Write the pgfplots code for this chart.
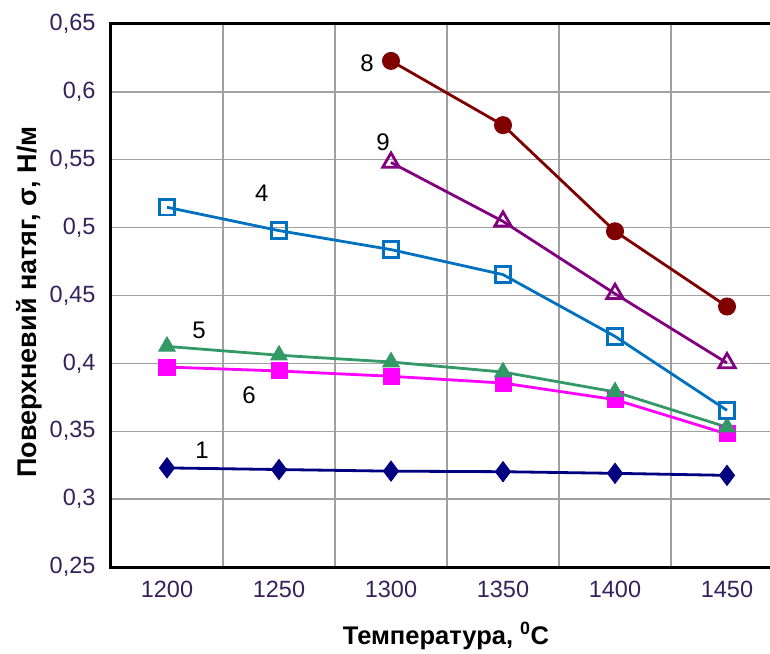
\documentclass[border=0pt]{standalone}
\usepackage{fontspec}
\setmainfont{Liberation Sans}
\usepackage{pgfplots}
\pgfplotsset{compat=1.18}
\definecolor{c1}{RGB}{0,0,128}
\definecolor{c4}{RGB}{0,112,192}
\definecolor{c5}{RGB}{51,153,102}
\definecolor{c6}{RGB}{255,0,255}
\definecolor{c8}{RGB}{128,0,0}
\definecolor{c9}{RGB}{128,0,128}
\definecolor{tickc}{RGB}{50,35,90}
\definecolor{gridc}{RGB}{160,160,160}
\begin{document}
\begin{tikzpicture}
\begin{axis}[
  at={(0pt,0pt)}, anchor=south west,
  scale only axis, width=672pt, height=543pt,
  xmin=1175, xmax=1475, ymin=0.25, ymax=0.65,
  xtick={1200,1250,1300,1350,1400,1450},
  xticklabels={1200,1250,1300,1350,1400,1450},
  minor xtick={1225,1275,1325,1375,1425},
  ytick={0.25,0.3,0.35,0.4,0.45,0.5,0.55,0.6,0.65},
  xminorgrids=true, xmajorgrids=false, ymajorgrids=true,
  major tick length=0pt, minor tick length=0pt,
  grid style={color=gridc, line width=1.5pt},
  minor grid style={color=gridc, line width=1.5pt},
  axis line style={line width=3pt, black},
  /pgf/number format/assume math mode=true,
  tick label style={font=\fontsize{23.5}{27}\selectfont, text=tickc},
  yticklabel style={xshift=-12pt, /pgf/number format/.cd, fixed, precision=2, use comma, assume math mode=true},
  xticklabel style={yshift=-11pt},
  every axis x label/.style={at={(axis description cs:0.4985,0)}, anchor=base, yshift=-77pt},
  every axis y label/.style={at={(axis description cs:0,0.488)}, rotate=90, anchor=base, yshift=74pt},
  xlabel={\fontsize{25.5}{29}\selectfont\bfseries Температура, \textsuperscript{0}C},
  ylabel={\fontsize{27}{31}\selectfont\bfseries Поверхневий натяг, σ, Н/м},
]
\addplot[c1, line width=2.8pt, mark=diamond*, mark size=10pt, mark options={solid, line width=1pt}]
  coordinates {(1200,0.323) (1250,0.3218) (1300,0.3206) (1350,0.3202) (1400,0.319) (1450,0.3175)};
\addplot[c6, line width=2.8pt, mark=square*, mark size=8pt, mark options={solid, line width=1pt}]
  coordinates {(1200,0.3973) (1250,0.3944) (1300,0.3905) (1350,0.3855) (1400,0.3733) (1450,0.348)};
\addplot[c5, line width=2.8pt, mark=triangle*, mark size=9.5pt, mark options={solid, line width=1pt}]
  coordinates {(1200,0.4125) (1250,0.406) (1300,0.401) (1350,0.3936) (1400,0.379) (1450,0.353)};
\addplot[c4, line width=2.8pt, mark=square, mark size=7.8pt, mark options={solid, fill=white, line width=2.8pt}]
  coordinates {(1200,0.515) (1250,0.4978) (1300,0.4838) (1350,0.4654) (1400,0.4199) (1450,0.3654)};
\addplot[c9, line width=2.8pt, mark=triangle, mark size=9.5pt, mark options={solid, fill=white, line width=2.8pt}]
  coordinates {(1300,0.548) (1350,0.5046) (1400,0.4513) (1450,0.4003)};
\addplot[c8, line width=2.8pt, mark=*, mark size=8.5pt, mark options={solid, line width=1pt}]
  coordinates {(1300,0.6228) (1350,0.5755) (1400,0.4973) (1450,0.4419)};
\node[font=\fontsize{24}{28}\selectfont] at (axis cs:1289.3,0.621) {8};
\node[font=\fontsize{24}{28}\selectfont] at (axis cs:1296.4,0.5627) {9};
\node[font=\fontsize{24}{28}\selectfont] at (axis cs:1242.3,0.5255) {4};
\node[font=\fontsize{24}{28}\selectfont] at (axis cs:1214.3,0.4243) {5};
\node[font=\fontsize{24}{28}\selectfont] at (axis cs:1236.6,0.3765) {6};
\node[font=\fontsize{24}{28}\selectfont] at (axis cs:1215.6,0.336) {1};
\end{axis}
\pgfresetboundingbox
\path[use as bounding box] (-111pt,-86pt) rectangle (659pt,567pt);
\end{tikzpicture}
\end{document}
